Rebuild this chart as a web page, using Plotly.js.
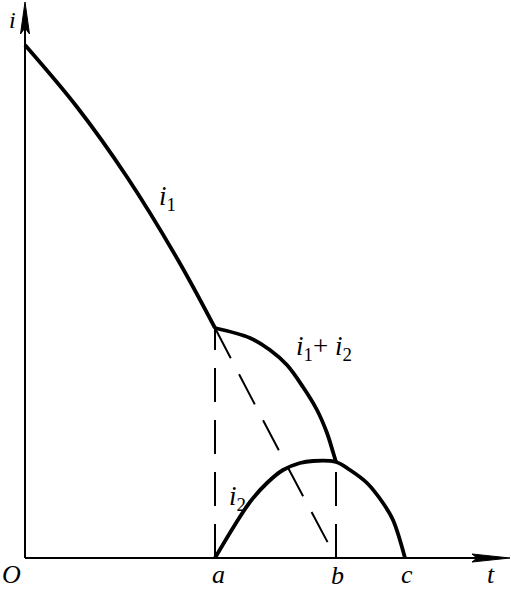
<!DOCTYPE html>
<html>
<head>
<meta charset="utf-8">
<script src="https://cdn.plot.ly/plotly-3.0.1.min.js"></script>
<style>
  html, body {margin: 0; padding: 0; background: #fff;}
  #div-chart {width: 511px; height: 589px;}
</style>
</head>
<body>
<div id="div-chart"></div>
<script>
// values (t across, i up)
var t_a = 19.0;
var t_b = 31.1;
var t_c = 38.0;

var i1_t = [0, 5.2, 10.2, 15.3, 19.0];
var i1_i = [51.3, 45.1, 38.1, 29.8, 23.0];

var i1_tail_t = [19.0, 25.0, 31.1];
var i1_tail_i = [23.0, 11.5, 0];

var sum_t = [19.0, 22.5, 24.5, 26.2, 27.8, 29.2, 30.2, 30.8, 31.1];
var sum_i = [23.0, 22.0, 20.8, 19.3, 17.1, 14.8, 12.5, 10.6, 9.6];

var i2_t = [19.0, 22.5, 24.2, 25.8, 27.5, 28.8, 31.1, 32.5, 34.2, 35.8, 36.8, 38.0];
var i2_i = [0, 5.6, 7.5, 8.8, 9.5, 9.7, 9.6, 8.8, 7.5, 5.5, 3.8, 0];

var t_max = 48.5;
var i_max = 55.6;

var axis_labels = ['<i>O</i>', '<i>a</i>', '<i>b</i>', '<i>c</i>', '<i>t</i>', '<i>i</i>'];
var axis_label_t = [-1.4, 19.3, 31.2, 38.2, 46.6, -1.3];
var axis_label_i = [-1.6, -1.6, -1.7, -1.6, -1.6, 53.8];

var curve_labels = ['<i>i</i><sub>1</sub>', '<i>i</i><sub>1</sub>+ <i>i</i><sub>2</sub>', '<i>i</i><sub>2</sub>'];
var curve_label_t = [14.2, 29.9, 21.2];
var curve_label_i = [36.0, 21.0, 6.0];

var serif = '"Liberation Serif", "DejaVu Serif", serif';

function solid(x, y) {
    return {x: x, y: y, mode: 'lines', hoverinfo: 'skip',
            line: {color: '#000', width: 3.8, shape: 'spline', smoothing: 1}};
}

function dashed(x, y) {
    return {x: x, y: y, mode: 'lines', hoverinfo: 'skip',
            line: {color: '#000', width: 2, dash: '34px,18px', shape: 'spline'}};
}

var data = [
    solid(i1_t, i1_i),
    solid(sum_t, sum_i),
    solid(i2_t, i2_i),
    dashed(i1_tail_t, i1_tail_i),
    dashed([t_a, t_a], [0, i1_i[i1_i.length - 1]]),
    dashed([t_b, t_b], [0, sum_i[sum_i.length - 1]])
];

// axes with arrowheads
var hw_t = 0.45, hw_i = 0.4;
var shapes = [
    {type: 'line', xref: 'x', yref: 'y', x0: 0, y0: 0, x1: 0, y1: i_max - 2,
     line: {color: '#000', width: 2}},
    {type: 'line', xref: 'x', yref: 'y', x0: 0, y0: 0, x1: t_max - 2, y1: 0,
     line: {color: '#000', width: 2}},
    {type: 'path', xref: 'x', yref: 'y', fillcolor: '#000', line: {color: '#000', width: 1},
     path: 'M ' + (-hw_t) + ',' + (i_max - 3.2) + ' L 0,' + i_max + ' L ' + hw_t + ',' + (i_max - 3.2) +
           ' L 0,' + (i_max - 2.6) + ' Z'},
    {type: 'path', xref: 'x', yref: 'y', fillcolor: '#000', line: {color: '#000', width: 1},
     path: 'M ' + (t_max - 3.8) + ',' + (-hw_i) + ' L ' + t_max + ',0 L ' + (t_max - 3.8) + ',' + hw_i +
           ' L ' + (t_max - 3.3) + ',0 Z'}
];

var annotations = [];
for (var k = 0; k < axis_labels.length; k++) {
    annotations.push({x: axis_label_t[k], y: axis_label_i[k], xref: 'x', yref: 'y',
                      text: axis_labels[k], showarrow: false,
                      font: {family: serif, size: k == 5 ? 24 : 26, color: '#000'}});
}
for (var k = 0; k < curve_labels.length; k++) {
    annotations.push({x: curve_label_t[k], y: curve_label_i[k], xref: 'x', yref: 'y',
                      text: curve_labels[k], showarrow: false,
                      font: {family: serif, size: 27, color: '#000'}});
}

var layout = {
    width: 511,
    height: 589,
    margin: {l: 0, r: 0, t: 0, b: 0},
    paper_bgcolor: '#fff',
    plot_bgcolor: '#fff',
    showlegend: false,
    font: {family: serif},
    xaxis: {range: [-2.5, 48.6], visible: false, fixedrange: true},
    yaxis: {range: [-3.1, 55.8], visible: false, fixedrange: true},
    shapes: shapes,
    annotations: annotations
};

Plotly.newPlot('div-chart', data, layout, {staticPlot: true});
</script>
</body>
</html>
